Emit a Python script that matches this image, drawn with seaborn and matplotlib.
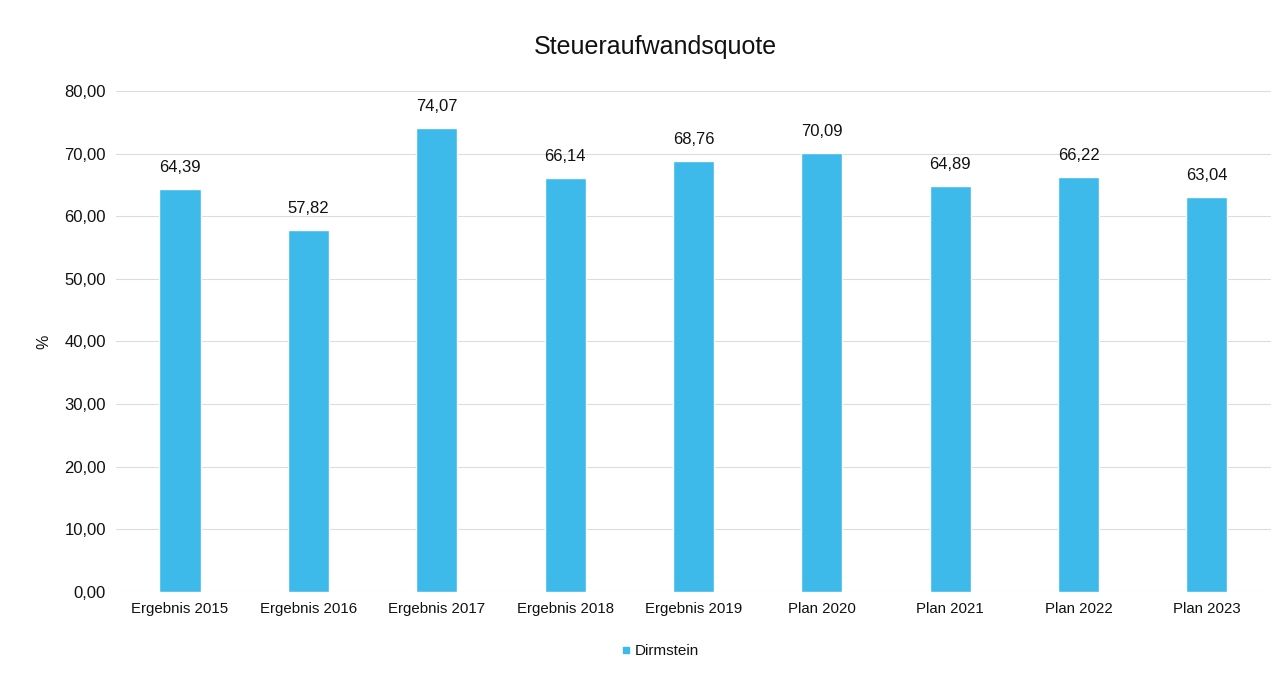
import seaborn as sns
import matplotlib.pyplot as plt
import pandas as pd
from matplotlib.lines import Line2D

# chart data
jahre = ['Ergebnis 2015', 'Ergebnis 2016', 'Ergebnis 2017', 'Ergebnis 2018', 'Ergebnis 2019',
         'Plan 2020', 'Plan 2021', 'Plan 2022', 'Plan 2023']
quote = [64.39, 57.82, 74.07, 66.14, 68.76, 70.09, 64.89, 66.22, 63.04]
y_ticks = [0, 10, 20, 30, 40, 50, 60, 70, 80]

sns.set_style('white')
plt.rcParams['font.family'] = ['Liberation Sans', 'DejaVu Sans']

farbe = '#3DB9EA'
df = pd.DataFrame({'jahr': jahre, 'quote': quote})

fig = plt.figure(figsize=(12.87, 6.77), dpi=100)
ax = fig.add_axes([0.090, 0.1256, 0.8976, 0.740])

sns.barplot(data=df, x='jahr', y='quote', color=farbe, width=0.32, saturation=1, ax=ax)

ax.set_ylim(0, 80)
ax.set_yticks(y_ticks)
ax.set_yticklabels([f'{v:.2f}'.replace('.', ',') for v in y_ticks], fontsize=12)
ax.tick_params(axis='x', labelsize=10.8, length=0, pad=7, labelcolor='#111111')
ax.tick_params(axis='y', length=0, pad=7, labelcolor='#111111')
ax.grid(axis='y', color='#dcdcdc', linewidth=0.8)
ax.set_axisbelow(True)
for s in ax.spines.values():
    s.set_visible(False)
ax.set_xlabel('')
ax.set_ylabel('%', fontsize=11.5, color='#111111')
ax.yaxis.set_label_coords(-0.056, 0.5)

for p, v in zip(ax.patches, quote):
    ax.annotate(f'{v:.2f}'.replace('.', ','), (p.get_x() + p.get_width() / 2, v),
                xytext=(0, 10), textcoords='offset points', ha='center', va='bottom',
                fontsize=12, color='#111111')

fig.suptitle('Steueraufwandsquote', fontsize=18, x=0.509, y=0.948, color='#111111')

handle = Line2D([], [], marker='s', color=farbe, linestyle='', markersize=5)
fig.legend([handle], ['Dirmstein'], loc='center', bbox_to_anchor=(0.513, 0.038),
           frameon=False, fontsize=11, handlelength=0.6, handletextpad=0.3,
           labelcolor='#111111')

fig.savefig('out.png', dpi=100)
